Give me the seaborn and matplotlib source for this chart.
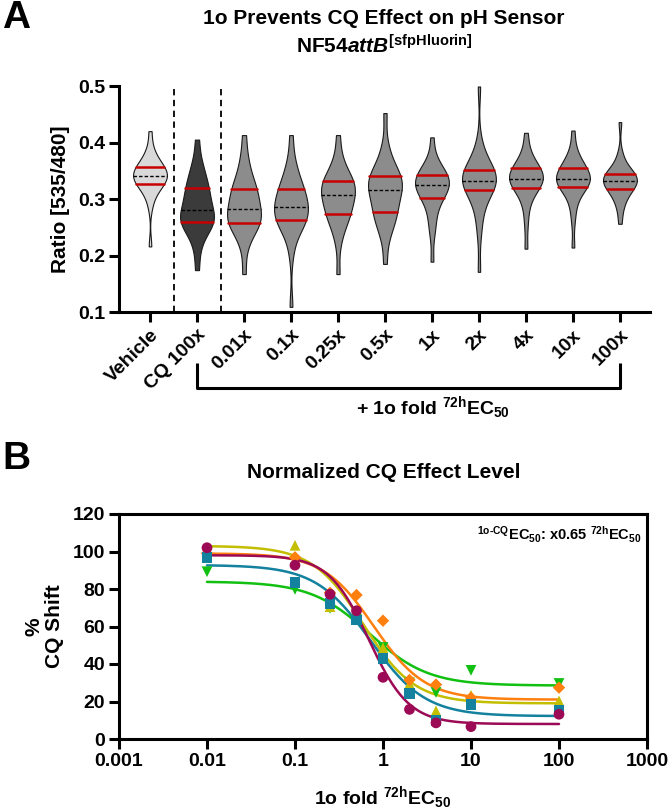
import numpy as np
import pandas as pd
import matplotlib
matplotlib.use("Agg")
import matplotlib.pyplot as plt
import seaborn as sns
from matplotlib.ticker import FixedLocator, NullLocator

# ---- panel A: per-cell ratio values (hand) ----
groups = ["Vehicle", "CQ 100x", "0.01x", "0.1x", "0.25x", "0.5x",
          "1x", "2x", "4x", "10x", "100x"]

vehicle = [0.217, 0.288, 0.305, 0.315, 0.320, 0.324, 0.328, 0.331, 0.334, 0.337,
           0.339, 0.341, 0.342, 0.344, 0.347, 0.350, 0.353, 0.356, 0.358, 0.362,
           0.366, 0.371, 0.380, 0.392, 0.421]
cq_100x = [0.175, 0.212, 0.232, 0.245, 0.252, 0.256, 0.260, 0.262, 0.264, 0.267,
           0.271, 0.276, 0.282, 0.289, 0.296, 0.302, 0.309, 0.315, 0.320, 0.327,
           0.335, 0.345, 0.356, 0.370, 0.406]
f_0_01 = [0.168, 0.215, 0.234, 0.246, 0.252, 0.256, 0.259, 0.262, 0.266, 0.270,
          0.275, 0.280, 0.284, 0.290, 0.298, 0.305, 0.310, 0.315, 0.319, 0.325,
          0.334, 0.345, 0.360, 0.378, 0.414]
f_0_1 = [0.110, 0.205, 0.236, 0.248, 0.255, 0.260, 0.264, 0.267, 0.271, 0.275,
         0.279, 0.283, 0.287, 0.292, 0.298, 0.304, 0.309, 0.314, 0.318, 0.324,
         0.332, 0.342, 0.355, 0.372, 0.414]
f_0_25 = [0.168, 0.222, 0.245, 0.257, 0.265, 0.270, 0.275, 0.281, 0.288, 0.294,
          0.300, 0.304, 0.308, 0.313, 0.318, 0.322, 0.326, 0.329, 0.332, 0.336,
          0.342, 0.350, 0.362, 0.378, 0.414]
f_0_5 = [0.186, 0.230, 0.248, 0.258, 0.266, 0.272, 0.277, 0.284, 0.292, 0.300,
         0.307, 0.312, 0.317, 0.322, 0.327, 0.331, 0.335, 0.338, 0.341, 0.345,
         0.352, 0.362, 0.376, 0.395, 0.453]
f_1 = [0.190, 0.238, 0.256, 0.272, 0.285, 0.296, 0.303, 0.308, 0.312, 0.316,
       0.319, 0.322, 0.325, 0.328, 0.331, 0.335, 0.338, 0.341, 0.343, 0.346,
       0.350, 0.356, 0.364, 0.376, 0.410]
f_2 = [0.172, 0.238, 0.265, 0.283, 0.296, 0.308, 0.316, 0.320, 0.323, 0.326,
       0.329, 0.331, 0.333, 0.336, 0.339, 0.343, 0.347, 0.350, 0.352, 0.356,
       0.362, 0.370, 0.382, 0.402, 0.500]
f_4 = [0.213, 0.255, 0.282, 0.298, 0.308, 0.315, 0.321, 0.324, 0.327, 0.330,
       0.333, 0.335, 0.337, 0.340, 0.343, 0.346, 0.349, 0.352, 0.355, 0.358,
       0.363, 0.369, 0.378, 0.392, 0.418]
f_10 = [0.215, 0.262, 0.286, 0.300, 0.310, 0.317, 0.323, 0.326, 0.328, 0.330,
        0.332, 0.334, 0.336, 0.338, 0.341, 0.345, 0.349, 0.353, 0.356, 0.359,
        0.363, 0.369, 0.378, 0.392, 0.422]
f_100 = [0.257, 0.280, 0.293, 0.302, 0.308, 0.313, 0.318, 0.321, 0.324, 0.327,
         0.329, 0.331, 0.333, 0.335, 0.337, 0.340, 0.342, 0.344, 0.346, 0.349,
         0.353, 0.359, 0.368, 0.382, 0.437]
group_values = [vehicle, cq_100x, f_0_01, f_0_1, f_0_25, f_0_5, f_1, f_2, f_4, f_10, f_100]
group_colors = ["#d9d9d9", "#3b3b3b"] + ["#8c8c8c"] * 9

# ---- panel B: normalized CQ shift per replicate ----
fold = [0.01, 0.1, 0.25, 0.5, 1, 2, 4, 10, 100]
rep_magenta = [102, 92.7, 77.2, 68.4, 32.9, 15.8, 8.6, 6.6, 13.2]
rep_teal = [96.7, 83.4, 72.1, 63.5, 43.1, 24.4, 10.0, 18.5, 15.0]
rep_orange = [99.0, 96.9, 78.0, 76.8, 63.1, 31.5, 29.0, 22.0, 27.4]
rep_yellow = [100.0, 103.3, 70.6, 64.5, 48.6, 29.4, 15.0, 23.3, 20.3]
rep_green = [89.2, 79.8, 69.7, 63.8, 48.8, 30.0, 24.8, 36.6, 29.6]
rep_colors = ["#11c011", "#c4be00", "#ff7f0f", "#14819e", "#9c0a55"]
rep_markers = ["v", "^", "D", "s", "o"]
rep_values = [rep_green, rep_yellow, rep_orange, rep_teal, rep_magenta]
# four-parameter fit per replicate: top, bottom, EC50, hill
fit_top = [84.0, 103.0, 99.0, 92.8, 98.0]
fit_bottom = [28.5, 19.0, 21.0, 12.2, 8.0]
fit_ec50 = [0.70, 0.60, 0.79, 0.72, 0.69]
fit_hill = [1.3, 1.5, 1.5, 1.4, 1.9]
xticks_b = [0.001, 0.01, 0.1, 1, 10, 100, 1000]
xtick_labels_b = ["0.001", "0.01", "0.1", "1", "10", "100", "1000"]

sns.set_theme(style="ticks")
plt.rcParams["font.family"] = ["Liberation Sans", "DejaVu Sans"]
plt.rcParams["font.weight"] = "bold"
plt.rcParams["axes.labelweight"] = "bold"
for key in ("text.color", "axes.labelcolor", "xtick.color", "ytick.color",
            "axes.edgecolor"):
    plt.rcParams[key] = "black"
plt.rcParams["mathtext.fontset"] = "custom"
plt.rcParams["mathtext.rm"] = "Liberation Sans:bold"
plt.rcParams["mathtext.bf"] = "Liberation Sans:bold"
plt.rcParams["mathtext.it"] = "Liberation Sans:bold:italic"
plt.rcParams["mathtext.sf"] = "Liberation Sans:bold"

W, H = 670, 811
fig = plt.figure(figsize=(W / 100, H / 100), dpi=100)
axA = fig.add_axes([119 / W, 1 - 312.5 / H, 531 / W, 226 / H])
axB = fig.add_axes([119 / W, 1 - 739 / H, 528 / W, 225 / H])

# ---------------- panel A ----------------
df = pd.DataFrame({
    "group": np.repeat(groups, [len(v) for v in group_values]),
    "ratio": np.concatenate(group_values),
})
sns.violinplot(data=df, x="group", y="ratio", hue="group", order=groups,
               hue_order=groups, palette=dict(zip(groups, group_colors)),
               legend=False, cut=0, bw_adjust=0.8, density_norm="width",
               width=0.72, inner="quart", linecolor="#1a1a1a", linewidth=0.8,
               ax=axA)
for i, ln in enumerate(axA.lines):
    if i % 3 == 1:
        ln.set_color("black")
        ln.set_linewidth(1.0)
        ln.set_dashes([2.5, 1.5])
    else:
        ln.set_linestyle("-")
        ln.set_color("#c80000")
        ln.set_linewidth(1.8)

for xv in (0.5, 1.5):
    axA.axvline(xv, color="black", lw=1.3, ls=(0, (3.5, 2.5)))

axA.set_xlim(-0.66, 10.64)
axA.set_ylim(0.1, 0.5)
axA.set_yticks([0.1, 0.2, 0.3, 0.4, 0.5])
axA.set_yticklabels(["0.1", "0.2", "0.3", "0.4", "0.5"])
axA.set_xlabel("")
axA.set_ylabel("Ratio [535/480]", fontsize=15, labelpad=6)
axA.set_xticks(range(len(groups)))
axA.set_xticklabels(groups, rotation=45, ha="right", rotation_mode="anchor")
sns.despine(ax=axA)
for s in ("left", "bottom"):
    axA.spines[s].set_linewidth(2.2)
axA.tick_params(direction="out", length=7, width=2.2, labelsize=14, pad=3)

trans = axA.get_xaxis_transform()
axA.plot([1, 1, 10, 10], [-0.223, -0.334, -0.334, -0.223], transform=trans,
         clip_on=False, color="black", lw=2.2, solid_capstyle="butt")

fig.text(433 / W, 1 - 408 / H, r"+ 1o fold $^{\mathrm{72h}}$EC$_{\mathrm{50}}$",
         ha="center", va="center", fontsize=14, fontweight="bold")
fig.text(384 / W, 1 - 18 / H, "1o Prevents CQ Effect on pH Sensor",
         ha="center", va="center", fontsize=15, fontweight="bold")
fig.text(384 / W, 1 - 46 / H, r"NF54$\mathit{attB}^{\mathrm{[sfpHluorin]}}$",
         ha="center", va="center", fontsize=15, fontweight="bold")
fig.text(2 / W, 1 - 18 / H, "A", ha="left", va="center", fontsize=28,
         fontweight="bold")

# ---------------- panel B ----------------
xgrid = np.logspace(-2, 2, 300)
for vals, col, mk, top, bot, ec, hill in zip(rep_values, rep_colors, rep_markers,
                                             fit_top, fit_bottom, fit_ec50, fit_hill):
    fit_y = bot + (top - bot) / (1 + (xgrid / ec) ** hill)
    sns.lineplot(x=xgrid, y=fit_y, color=col, lw=1.8, estimator=None,
                 sort=False, ax=axB, zorder=2)
    sns.scatterplot(x=fold, y=vals, marker=mk, color=col,
                    s=40 if mk == "D" else 60, edgecolor="none", ax=axB,
                    zorder=3)

axB.set_xscale("log")
axB.set_xlim(0.001, 1000)
axB.set_ylim(0, 120)
axB.xaxis.set_major_locator(FixedLocator(xticks_b))
axB.xaxis.set_minor_locator(NullLocator())
axB.set_xticklabels(xtick_labels_b)
axB.set_yticks(range(0, 121, 20))
for s in axB.spines.values():
    s.set_linewidth(2.2)
axB.tick_params(direction="out", length=7, width=2.2, labelsize=14, pad=3)
axB.set_xlabel(r"1o fold $^{\mathrm{72h}}$EC$_{\mathrm{50}}$", fontsize=14,
               labelpad=10)
axB.set_ylabel("%\nCQ Shift", fontsize=15, labelpad=6, linespacing=1.1)

fig.text(384 / W, 1 - 472 / H, "Normalized CQ Effect Level", ha="center",
         va="center", fontsize=15, fontweight="bold")
fig.text(641 / W, 1 - 535 / H,
         r"$^{\mathrm{1o\text{-}CQ}}$EC$_{\mathrm{50}}$: x0.65 $^{\mathrm{72h}}$EC$_{\mathrm{50}}$",
         ha="right", va="center", fontsize=10.5, fontweight="bold")
fig.text(2 / W, 1 - 459 / H, "B", ha="left", va="center", fontsize=28,
         fontweight="bold")

fig.savefig("out.png", dpi=100)
